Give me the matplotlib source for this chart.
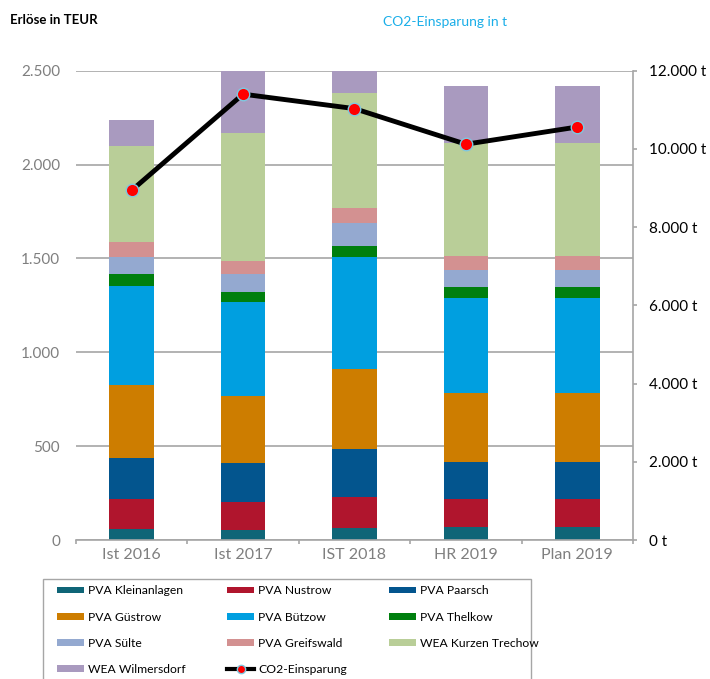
import numpy as np
import matplotlib.pyplot as plt
from matplotlib.patches import Patch, Rectangle
from matplotlib.lines import Line2D
from matplotlib.ticker import FuncFormatter, FixedLocator

plt.rcParams['font.family'] = ['Lato', 'DejaVu Sans']

categories = ['Ist 2016', 'Ist 2017', 'IST 2018', 'HR 2019', 'Plan 2019']
series = ['PVA Kleinanlagen', 'PVA Nustrow', 'PVA Paarsch', 'PVA Güstrow', 'PVA Bützow',
          'PVA Thelkow', 'PVA Sülte', 'PVA Greifswald', 'WEA Kurzen Trechow', 'WEA Wilmersdorf']
kleinanlagen = [57, 53, 62, 71, 71]
nustrow = [160, 151, 166, 146, 146]
paarsch = [222, 208, 257, 201, 201]
guestrow = [387, 356, 425, 364, 364]
buetzow = [528, 499, 595, 505, 505]
thelkow = [62, 53, 62, 62, 62]
suelte = [91, 96, 124, 89, 89]
greifswald = [82, 70, 80, 76, 76]
kurzen_trechow = [511, 680, 610, 600, 600]
wilmersdorf = [139, 370, 150, 306, 306]
co2 = [8940, 11400, 11030, 10120, 10560]

values = [kleinanlagen, nustrow, paarsch, guestrow, buetzow, thelkow,
          suelte, greifswald, kurzen_trechow, wilmersdorf]
colors = ['#0F6577', '#B0152D', '#03558E', '#CD7D00', '#009FE0', '#007F0E',
          '#94A9D0', '#D39191', '#B9CE98', '#A99ABF']

fig = plt.figure(figsize=(7.1, 6.79), dpi=100)
ax = fig.add_axes([0.107, 0.2047, 0.7845, 0.6912])
x = np.arange(len(categories))

bottom = np.zeros(len(categories))
for name, vals, c in zip(series, values, colors):
    ax.bar(x, vals, 0.4, bottom=bottom, color=c, label=name, zorder=2)
    bottom += np.array(vals)

ax.set_xlim(-0.5, len(categories) - 0.5)
ax.set_ylim(0, 2500)
ax.set_yticks(np.arange(0, 2501, 500))
ax.yaxis.set_major_formatter(FuncFormatter(lambda v, p: f'{int(v):,}'.replace(',', '.')))
ax.grid(axis='y', color='#A6A6A6', lw=1.2, zorder=0)
ax.set_axisbelow(True)
for s in ['top', 'left', 'right']:
    ax.spines[s].set_visible(False)
ax.spines['bottom'].set_color('#A6A6A6')
ax.spines['bottom'].set_linewidth(1.2)
ax.tick_params(axis='y', length=0, pad=11.5, labelsize=11, labelcolor='#7F7F7F')
ax.set_xticks(x)
ax.set_xticklabels(categories)
ax.tick_params(axis='x', which='major', length=0, pad=6, labelsize=11.5, labelcolor='#7F7F7F')
ax.xaxis.set_minor_locator(FixedLocator(np.arange(-0.5, len(categories), 1)))
ax.tick_params(axis='x', which='minor', length=3, width=1.2, color='#A6A6A6', direction='out')

ax2 = ax.twinx()
ax2.set_ylim(0, 12000)
ax2.set_yticks(np.arange(0, 12001, 2000))
ax2.yaxis.set_major_formatter(FuncFormatter(lambda v, p: f'{int(v):,} t'.replace(',', '.')))
for s in ['top', 'left', 'bottom']:
    ax2.spines[s].set_visible(False)
ax2.spines['right'].set_color('#A6A6A6')
ax2.spines['right'].set_linewidth(1.2)
ax2.tick_params(axis='y', length=3, width=1.2, color='#A6A6A6', pad=8.5,
                labelsize=11, labelcolor='black')
ax2.plot(x, co2, color='black', lw=3.5, marker='o', markersize=9,
         markerfacecolor='red', markeredgecolor='#7FC8E0', markeredgewidth=1, zorder=5)

fig.text(0.014, 0.97, 'Erlöse in TEUR', fontsize=9.5, fontweight='bold', va='center')
fig.text(0.54, 0.967, 'CO2-Einsparung in t', fontsize=10, color='#1AAEE8', va='center')

# legend frame runs past the bottom edge like in the original
fig.patches.append(Rectangle((42.7 / 710, -0.05), 488.3 / 710, 0.05 + 1 - 579.3 / 679,
                             transform=fig.transFigure, facecolor='white',
                             edgecolor='#A6A6A6', lw=1.0, zorder=0))

handles = [Patch(facecolor=c) for c in colors]
handles.append(Line2D([0], [0], color='black', lw=3, marker='o', markersize=6,
                      markerfacecolor='red', markeredgecolor='#7FC8E0'))
labels = series + ['CO2-Einsparung']
order = [0, 3, 6, 9, 1, 4, 7, 10, 2, 5, 8]
leg = fig.legend([handles[i] for i in order], [labels[i] for i in order],
                 loc='upper left', bbox_to_anchor=(57 / 710, 1 - 585.5 / 679),
                 ncol=3, fontsize=8.7, frameon=False, borderaxespad=0, borderpad=0,
                 handlelength=2.2, handleheight=0.45, handletextpad=0.33,
                 labelspacing=1.25, columnspacing=3.5)

fig.savefig('out.png', dpi=100)
